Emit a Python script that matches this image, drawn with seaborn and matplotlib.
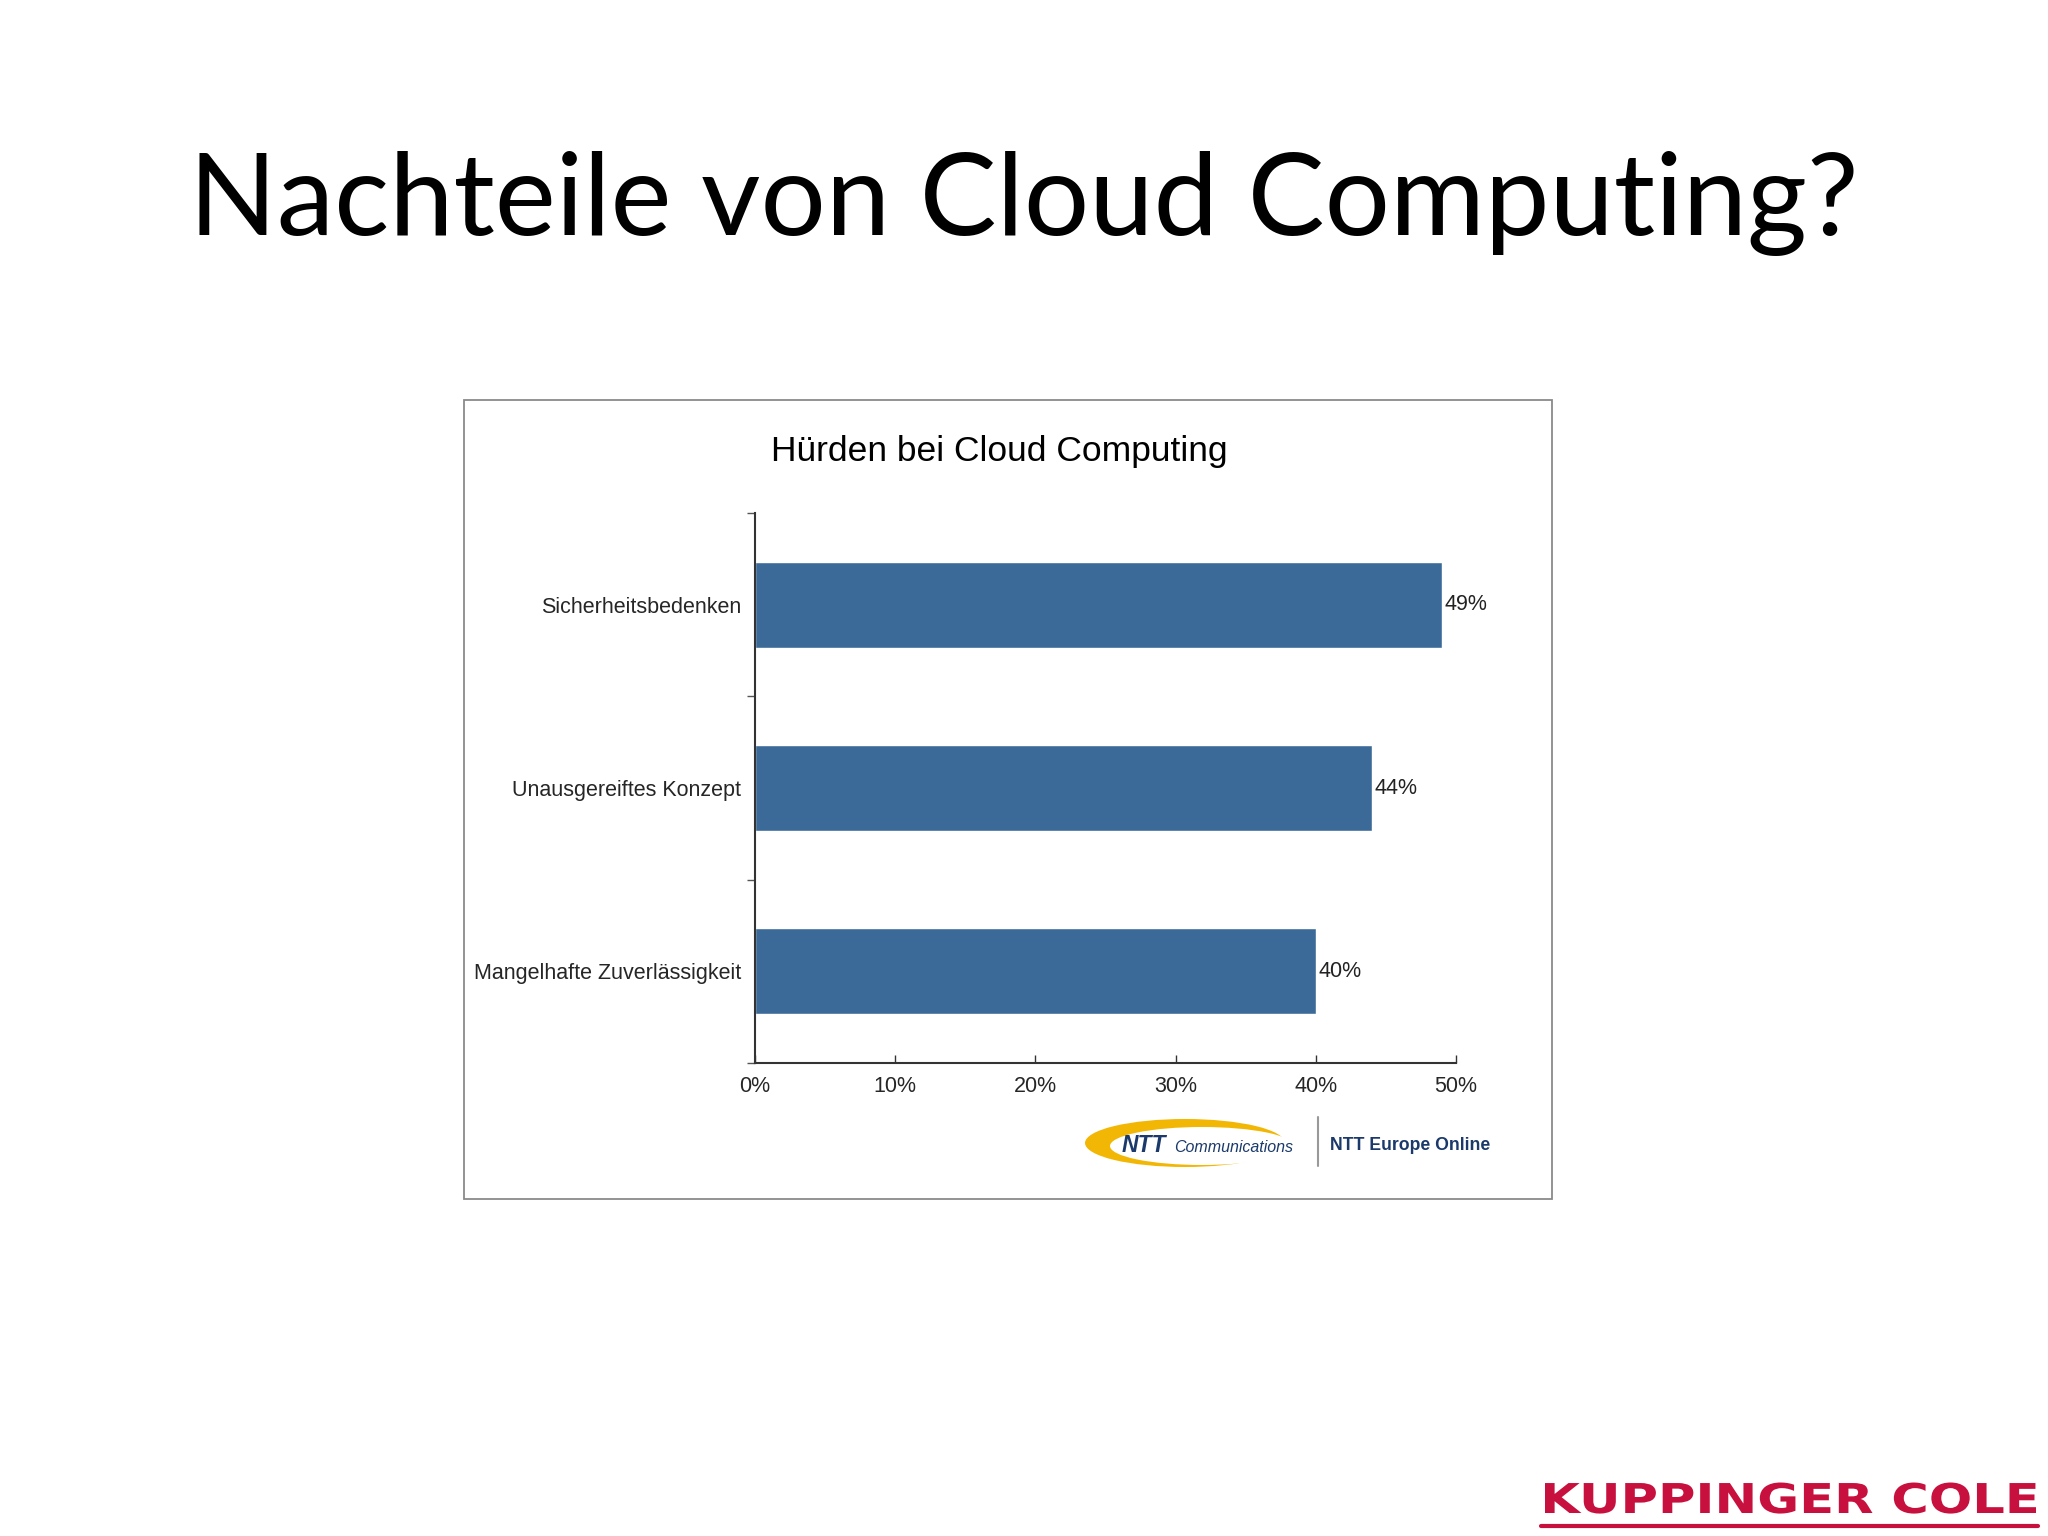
import pandas as pd
import matplotlib.pyplot as plt
import seaborn as sns
from matplotlib.patches import Rectangle, Ellipse, PathPatch
from matplotlib.textpath import TextPath
from matplotlib.font_manager import FontProperties
from matplotlib.transforms import Affine2D

# Data
categories = ['Sicherheitsbedenken', 'Unausgereiftes Konzept', 'Mangelhafte Zuverlässigkeit']
values = [49, 44, 40]
x_ticks = [0, 10, 20, 30, 40, 50]
x_ticklabels = ['0%', '10%', '20%', '30%', '40%', '50%']

slide_title = 'Nachteile von Cloud Computing?'
chart_title = 'Hürden bei Cloud Computing'
brand = 'KUPPINGER COLE'

W, H = 2048, 1536
BAR_COLOR = '#3C6A98'
NAVY = '#1B3A6B'
CRIMSON = '#C8103E'

sns.set_theme(style='white')
plt.rcParams['font.family'] = ['Liberation Sans', 'DejaVu Sans']

fig = plt.figure(figsize=(W / 100, H / 100), dpi=100)
fig.patch.set_facecolor('white')

# Background layer in pixel coordinates
bg = fig.add_axes([0, 0, 1, 1])
bg.set_xlim(0, W)
bg.set_ylim(H, 0)
bg.axis('off')

bg.text(1024, 203, slide_title, ha='center', va='center', fontsize=83,
        family=['Lato', 'DejaVu Sans'], color='black')

# chart frame
bg.add_patch(Rectangle((464, 400), 1088, 799, fill=True, facecolor='white',
                       edgecolor='#8a8a8a', lw=1.3))

bg.text(999, 452, chart_title, ha='center', va='center', fontsize=25.5, color='black')

# NTT logo
bg.add_patch(Ellipse((1185, 1143), 200, 48, facecolor='#F2B705', edgecolor='none'))
bg.add_patch(Ellipse((1202, 1146), 184, 38, facecolor='white', edgecolor='none'))
bg.text(1122, 1146, 'NTT', ha='left', va='center', fontsize=16.5, fontweight='heavy',
        style='italic', color=NAVY)
bg.text(1174, 1147, 'Communications', ha='left', va='center', fontsize=11.5,
        style='italic', color=NAVY)
bg.plot([1318, 1318], [1117, 1166], color='#999999', lw=1.5)
bg.text(1330, 1146, 'NTT Europe Online', ha='left', va='center', fontsize=12.7,
        fontweight='bold', color=NAVY)

# Kuppinger Cole logo, stretched wide
tp = TextPath((0, 0), brand, size=100, prop=FontProperties(family='DejaVu Sans', weight='bold'))
bb = tp.get_extents()
sx = (2036 - 1545) / bb.width
sy = 30 / 73.0
trans = Affine2D().translate(-bb.x0, 0).scale(sx, -sy).translate(1545, 1513)
bg.add_patch(PathPatch(trans.transform_path(tp), facecolor=CRIMSON, edgecolor='none'))
bg.plot([1541, 2038], [1526, 1526], color=CRIMSON, lw=3)

# Bar chart
ax = fig.add_axes([755 / W, 1 - 1063 / H, 701 / W, 550 / H])
df = pd.DataFrame({'category': categories, 'value': values})
sns.barplot(data=df, x='value', y='category', orient='h', color=BAR_COLOR,
            width=0.47, saturation=1, ax=ax)
ax.patch.set_alpha(0)
ax.set_xlim(0, 50)
ax.set_ylim(2.5, -0.5)
ax.set_xlabel('')
ax.set_ylabel('')
ax.set_xticks(x_ticks)
ax.set_xticklabels(x_ticklabels, fontsize=15.5)
ax.tick_params(axis='x', bottom=True, direction='in', length=6, width=1,
               color='#333333', pad=9)
ax.tick_params(axis='y', which='major', left=True, length=0, pad=10, labelsize=15.5)
ax.set_yticks([-0.5, 0.5, 1.5, 2.5], minor=True)
ax.tick_params(axis='y', which='minor', left=True, direction='out', length=6,
               width=1, color='#555555')
for s in ['top', 'right']:
    ax.spines[s].set_visible(False)
for s in ['left', 'bottom']:
    ax.spines[s].set_color('#333333')
    ax.spines[s].set_linewidth(1.5)

for i, v in enumerate(values):
    ax.text(v + 0.2, i, f'{v}%', ha='left', va='center', fontsize=15.5, color='#222222')

fig.savefig('out.png', dpi=100)
